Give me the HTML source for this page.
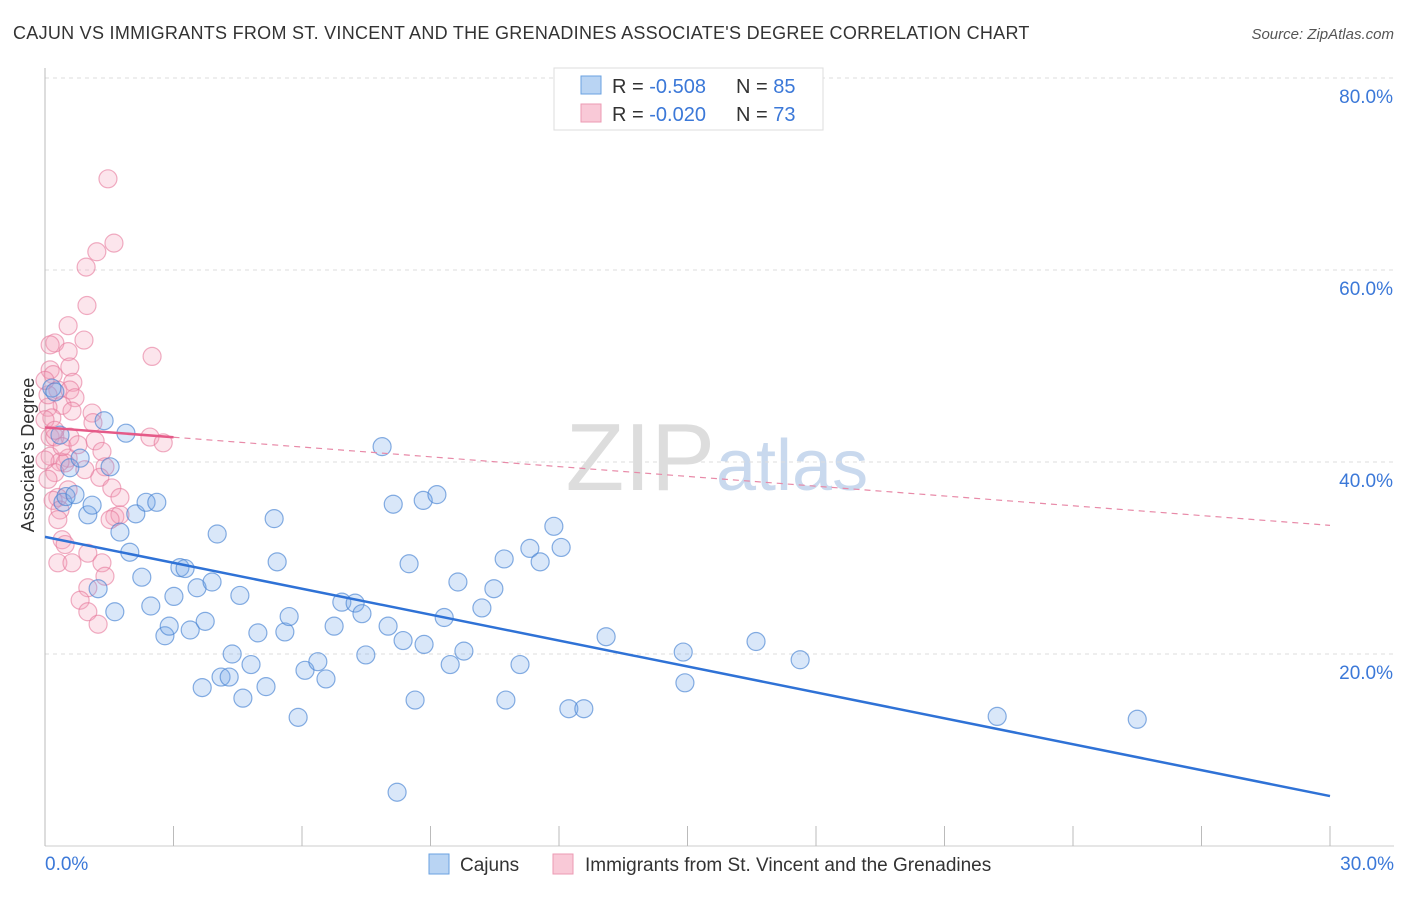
<!DOCTYPE html>
<html><head><meta charset="utf-8"><style>
body{margin:0;background:#fff;font-family:"Liberation Sans",sans-serif;}
svg text{font-family:"Liberation Sans",sans-serif;}
</style></head><body>
<svg id="chart" width="1406" height="892">
<text x="13" y="39" font-size="18" fill="#333" letter-spacing="0.28">CAJUN VS IMMIGRANTS FROM ST. VINCENT AND THE GRENADINES ASSOCIATE'S DEGREE CORRELATION CHART</text>
<text x="1394" y="39" font-size="15" fill="#555" font-style="italic" text-anchor="end">Source: ZipAtlas.com</text>
<text x="715" y="490" font-size="96" fill="#ddd" text-anchor="end" font-family="Liberation Serif">ZIP</text>
<text x="716" y="490" font-size="72" fill="#c9d9ee">atlas</text>
<g id="grid"></g><g id="marks"></g>
<text transform="translate(34,455) rotate(-90)" font-size="18" fill="#333" text-anchor="middle">Associate's Degree</text>
<g>
<rect x="554" y="68" width="269" height="62" fill="#fff" stroke="#ddd"/>
<rect x="581" y="76" width="20" height="18" fill="#b9d4f3" stroke="#6aa2e0"/>
<rect x="581" y="104" width="20" height="18" fill="#f9c9d7" stroke="#ec9ab3"/>
<text x="612" y="93" font-size="20" fill="#333">R = <tspan fill="#3b78d8">-0.508</tspan></text>
<text x="736" y="93" font-size="20" fill="#333">N = <tspan fill="#3b78d8">85</tspan></text>
<text x="612" y="121" font-size="20" fill="#333">R = <tspan fill="#3b78d8">-0.020</tspan></text>
<text x="736" y="121" font-size="20" fill="#333">N = <tspan fill="#3b78d8">73</tspan></text>
</g>
<g>
<rect x="429" y="854" width="20" height="20" fill="#b9d4f3" stroke="#6aa2e0"/>
<text x="460" y="871" font-size="19" fill="#333">Cajuns</text>
<rect x="553" y="854" width="20" height="20" fill="#f9c9d7" stroke="#ec9ab3"/>
<text x="585" y="871" font-size="19" fill="#333">Immigrants from St. Vincent and the Grenadines</text>
</g>
</svg>
<script>
const blueX=[0.16,0.23,0.35,0.42,0.49,0.58,0.70,0.82,1.00,1.10,1.24,1.38,1.52,1.63,1.75,1.89,1.98,2.12,2.26,2.36,2.47,2.61,2.80,2.90,3.01,3.15,3.27,3.39,3.55,3.67,3.74,3.90,4.02,4.11,4.30,4.37,4.55,4.62,4.81,4.97,5.16,5.35,5.42,5.60,5.70,5.91,6.07,6.37,6.56,6.75,6.93,7.24,7.40,7.49,7.87,8.01,8.13,8.22,8.36,8.50,8.64,8.83,8.85,9.15,9.32,9.46,9.64,9.78,10.20,10.48,10.72,10.76,11.09,11.32,11.56,11.88,12.05,12.23,12.58,13.10,14.90,14.94,16.60,17.63,22.23,25.50];
const blueY=[47.7,47.3,42.8,35.8,36.4,39.4,36.6,40.4,34.5,35.5,26.8,44.3,39.5,24.4,32.7,43.0,30.6,34.6,28.0,35.8,25.0,35.8,21.9,22.9,26.0,29.0,28.9,22.5,26.9,16.5,23.4,27.5,32.5,17.6,17.6,20.0,26.1,15.4,18.9,22.2,16.6,34.1,29.6,22.3,23.9,13.4,18.3,19.2,17.4,22.9,25.4,25.3,24.2,19.9,41.6,22.9,35.6,5.6,21.4,29.4,15.2,36.0,21.0,36.6,23.8,18.9,27.5,20.3,24.8,26.8,29.9,15.2,18.9,31.0,29.6,33.3,31.1,14.3,14.3,21.8,20.2,17.0,21.3,19.4,13.5,13.2];
const pinkX=[1.47,1.61,1.21,0.96,0.98,0.54,0.23,0.91,2.50,0.54,0.12,0.58,0.65,0.30,0.58,0.70,0.40,0.07,0.63,1.10,0.16,1.12,0.12,0.23,0.58,1.17,1.33,0.12,0.54,0.47,0.35,1.40,1.28,0.23,1.56,0.54,0.30,0.19,0.35,1.63,1.75,2.45,2.76,0.40,0.47,1.00,0.30,0.63,1.33,1.40,1.00,0.82,1.00,1.24,0.0,0.07,0.19,0.23,0.40,0.77,0.93,0.07,0.30,1.75,1.52,0.0,0.12,0.0];
const pinkY=[69.5,62.8,61.9,60.3,56.3,54.2,52.4,52.7,51.0,51.5,49.6,49.9,48.3,47.5,47.5,46.7,45.9,45.7,45.3,45.1,44.6,44.1,42.6,42.6,42.6,42.2,41.1,40.6,40.4,39.9,40.0,39.5,38.4,38.9,37.3,37.1,36.3,36.0,35.0,34.3,34.5,42.6,42.0,31.9,31.4,30.5,29.5,29.5,29.5,28.1,26.9,25.6,24.4,23.1,44.4,47.0,49.1,43.3,41.6,41.8,39.2,38.2,34.0,36.3,34.0,40.2,52.2,48.5];
const blueTrend=[32.2,5.2];
const pinkTrend=[43.6,33.4];
const yTicks=[20,40,60,80];
const yTickLabels=["20.0%","40.0%","60.0%","80.0%"];
const xTicks=[0,3,6,9,12,15,18,21,24,27,30];
const NS="http://www.w3.org/2000/svg";
const X0=45,X1=1330,Y0=846,Y1=78;
const sx=v=>X0+(v/30)*(X1-X0);
const sy=v=>Y0-(v/80)*(Y0-Y1);
function mk(tag,attrs,parent){const e=document.createElementNS(NS,tag);for(const k in attrs)e.setAttribute(k,attrs[k]);parent.appendChild(e);return e;}
const grid=document.getElementById('grid'),marks=document.getElementById('marks');
yTicks.forEach((t,i)=>{
 const l=mk('line',{x1:X0,x2:1394,y1:sy(t),y2:sy(t),stroke:'#ddd','stroke-dasharray':'4,4'},grid);
 
 
 const tx=mk('text',{x:1393,y:sy(t)+25,'font-size':19,fill:'#3b78d8','text-anchor':'end'},grid);
 tx.textContent=yTickLabels[i];
 
 
});
const ax=mk('line',{x1:X0,x2:X0,y1:68,y2:Y0,stroke:'#bbb'},grid);


const bx=mk('line',{x1:X0,x2:1394,y1:Y0,y2:Y0,stroke:'#ccc'},grid);


xTicks.forEach(t=>{const l=mk('line',{x1:sx(t),x2:sx(t),y1:826,y2:Y0,stroke:'#bbb'},grid);
 
 });
const xl0=mk('text',{x:45,y:870,'font-size':19,fill:'#3b78d8'},grid);xl0.textContent='0.0%';


const xl1=mk('text',{x:1394,y:870,'font-size':19,fill:'#3b78d8','text-anchor':'end'},grid);xl1.textContent='30.0%';


pinkX.forEach((x,i)=>{const c=mk('circle',{cx:sx(x),cy:sy(pinkY[i]),r:9,fill:'rgba(244,160,188,0.28)',stroke:'rgba(230,120,155,0.6)','stroke-width':1.2},marks);
 
 });
blueX.forEach((x,i)=>{const c=mk('circle',{cx:sx(x),cy:sy(blueY[i]),r:9,fill:'rgba(120,170,235,0.28)',stroke:'rgba(70,130,210,0.65)','stroke-width':1.2},marks);
 
 });
const bt=mk('line',{x1:sx(0),y1:sy(blueTrend[0]),x2:sx(30),y2:sy(blueTrend[1]),stroke:'#2f72d6','stroke-width':2.5},marks);


const pAt=x=>pinkTrend[0]+(pinkTrend[1]-pinkTrend[0])*x/30;
const pt1=mk('line',{x1:sx(0),y1:sy(pAt(0)),x2:sx(3),y2:sy(pAt(3)),stroke:'#e55a88','stroke-width':2.5},marks);


const pt2=mk('line',{x1:sx(3),y1:sy(pAt(3)),x2:sx(30),y2:sy(pAt(30)),stroke:'#e88aa8','stroke-width':1.2,'stroke-dasharray':'6,5'},marks);


</script>
</body></html>
